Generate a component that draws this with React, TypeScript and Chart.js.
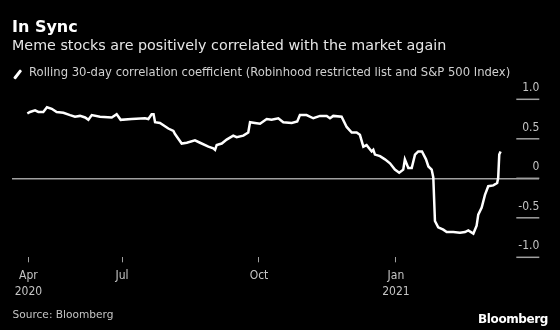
import React, { useEffect, useRef } from "react";
import { Chart, registerables } from "chart.js";

Chart.register(...registerables);

// Days since 2020-04-01
const dayIndex = [
  27.4, 29.2, 32.6, 34.8, 38.1, 40.6, 43.8, 47.1, 51.6, 56.1, 59.4, 62.8, 66.2, 68.4, 70.7, 76.2,
  84.1, 87.4, 90.1, 97.5, 106.4, 108.7, 110.9, 112.2, 113.2, 116.5, 122.1, 125.5, 126.6, 130, 131.1,
  134.5, 140, 143.4, 149, 152.3, 153.5, 154.6, 158, 161.3, 165.7, 168, 172.5, 175.8, 177, 180.3,
  183.7, 188.2, 191.5, 196, 199.3, 205, 208.7, 210.5, 215, 216.1, 219.5, 224, 228.5, 230.7, 232.9,
  238.5, 241.9, 245.3, 248.6, 250.8, 253.1, 255.3, 258.7, 259.8, 260.9, 264.3, 267.6, 271, 274.3,
  277.2, 279.9, 281, 283.3, 285.6, 287.8, 290, 292.5, 295.2, 296.8, 299, 300.1, 301.2, 303.4, 306.8,
  309.1, 313.5, 318, 321.4, 323.6, 327, 329.2, 330.3, 332.6, 334.8, 337, 340.4, 343, 343.7, 344.4,
  345.3,
];

// Rolling 30-day correlation coefficient
const correlation = [
  0.82, 0.84, 0.86, 0.84, 0.84, 0.9, 0.88, 0.84, 0.83, 0.8, 0.78, 0.79, 0.77, 0.74, 0.8, 0.78,
  0.77, 0.81, 0.74, 0.75, 0.76, 0.75, 0.81, 0.81, 0.71, 0.7, 0.63, 0.6, 0.56, 0.47, 0.44,
  0.45, 0.48, 0.45, 0.4, 0.38, 0.36, 0.42, 0.44, 0.49, 0.54, 0.52, 0.54, 0.58, 0.71, 0.7,
  0.69, 0.75, 0.74, 0.76, 0.71, 0.7, 0.72, 0.8, 0.8, 0.79, 0.76, 0.79, 0.79, 0.76, 0.79,
  0.78, 0.65, 0.58, 0.58, 0.55, 0.4, 0.42, 0.34, 0.36, 0.3, 0.28, 0.24, 0.19, 0.11,
  0.07, 0.11, 0.24, 0.13, 0.13, 0.3, 0.34, 0.34, 0.24, 0.15, 0.11, 0.01, -0.54, -0.62, -0.65,
  -0.68, -0.68, -0.69, -0.68, -0.66, -0.7, -0.6, -0.46, -0.37, -0.21, -0.1, -0.09, -0.06, 0.01, 0.3,
  0.34,
];

const xTickDays = [28.1, 91, 183, 275];
const xTickLabels = [["Apr", "2020"], ["Jul"], ["Oct"], ["Jan", "2021"]];
const yTickValues = [-1, -0.5, 0, 0.5, 1];
const yTickLabels = ["-1.0", "-0.5", "0", "0.5", "1.0"];

const TITLE = "In Sync";
const SUBTITLE = "Meme stocks are positively correlated with the market again";
const LEGEND = "Rolling 30-day correlation coefficient (Robinhood restricted list and S&P 500 Index)";
const SOURCE = "Source: Bloomberg";
const BRAND = "Bloomberg";

const GRID = "#a0a0a0";
const LABEL = "#c4c4c4";
const FONT = "'DejaVu Sans Condensed', 'DejaVu Sans', sans-serif";
const FONT_REG = "'DejaVu Sans', sans-serif";

const shortTicks = {
  id: "shortTicks",
  afterDraw(chart: any) {
    const { ctx, chartArea, scales } = chart;
    const y = scales.y;
    ctx.save();
    ctx.strokeStyle = GRID;
    ctx.lineWidth = 1.5;
    y.ticks.forEach((t: any) => {
      const py = y.getPixelForValue(t.value);
      ctx.beginPath();
      ctx.moveTo(chartArea.right - 23, py);
      ctx.lineTo(chartArea.right, py);
      ctx.stroke();
    });
    ctx.restore();
  },
};

export default function App() {
  const ref = useRef<HTMLCanvasElement>(null);

  useEffect(() => {
    if (!ref.current) return;
    const chart = new Chart(ref.current, {
      type: "line",
      data: {
        datasets: [
          {
            data: dayIndex.map((d, i) => ({ x: d, y: correlation[i] })),
            borderColor: "#ffffff",
            borderWidth: 2.5,
            pointRadius: 0,
            tension: 0,
            fill: false,
          },
        ],
      },
      options: {
        animation: false,
        responsive: false,
        maintainAspectRatio: false,
        layout: { padding: { left: 12, right: 20.7, top: 99.3, bottom: 32.7 } },
        plugins: { legend: { display: false }, tooltip: { enabled: false } },
        scales: {
          x: {
            type: "linear",
            min: 17.1,
            max: 371.3,
            afterBuildTicks: (s: any) => {
              s.ticks = xTickDays.map((v) => ({ value: v }));
            },
            afterFit: (s: any) => {
              s.height = 40;
            },
            border: { display: false },
            grid: {
              drawOnChartArea: false,
              drawTicks: true,
              tickLength: 5,
              color: GRID,
              lineWidth: 1,
            },
            ticks: {
              autoSkip: false,
              maxRotation: 0,
              padding: 5,
              color: LABEL,
              font: { family: FONT, size: 12, lineHeight: 1.35 },
              callback: (_v: any, i: number) => xTickLabels[i],
            },
          },
          y: {
            position: "right",
            min: -1,
            max: 1,
            afterBuildTicks: (s: any) => {
              s.ticks = yTickValues.map((v) => ({ value: v }));
            },
            afterFit: (s: any) => {
              s.width = 0;
            },
            border: { display: false },
            grid: {
              drawTicks: false,
              lineWidth: 1.5,
              color: (c: any) => (c.tick && c.tick.value === 0 ? GRID : "rgba(0,0,0,0)"),
            },
            ticks: {
              mirror: true,
              padding: 0,
              labelOffset: -11,
              color: LABEL,
              font: { family: FONT, size: 12 },
              callback: (v: any) => yTickLabels[yTickValues.indexOf(Number(v))],
            },
          },
        },
      },
      plugins: [shortTicks],
    } as any);
    return () => chart.destroy();
  }, []);

  const base: React.CSSProperties = {
    position: "absolute",
    whiteSpace: "nowrap",
    lineHeight: 1,
    fontFamily: FONT_REG,
  };

  return (
    <div
      style={{
        position: "fixed",
        left: 0,
        top: 0,
        width: 560,
        height: 330,
        background: "#000",
        overflow: "hidden",
      }}
    >
      <canvas ref={ref} width={560} height={330} style={{ position: "absolute", left: 0, top: 0 }} />
      <div style={{ ...base, left: 12, top: 18.5, fontSize: 16, fontWeight: "bold", color: "#fff" }}>
        {TITLE}
      </div>
      <div style={{ ...base, left: 12, top: 38, fontSize: 14.3, color: "#e6e6e6" }}>{SUBTITLE}</div>
      <div
        style={{
          position: "absolute",
          left: 12,
          top: 72.5,
          width: 11,
          height: 2.6,
          background: "#fff",
          transform: "rotate(-52deg)",
          borderRadius: 1,
        }}
      />
      <div style={{ ...base, left: 29, top: 66.8, fontSize: 11.6, color: "#d0d0d0" }}>{LEGEND}</div>
      <div style={{ ...base, left: 12.5, top: 309.3, fontSize: 10.6, color: "#c4c4c4" }}>{SOURCE}</div>
      <div
        style={{
          ...base,
          right: 12,
          top: 312.5,
          fontSize: 12,
          fontWeight: "bold",
          color: "#fff",
          letterSpacing: -0.4,
        }}
      >
        {BRAND}
      </div>
    </div>
  );
}
